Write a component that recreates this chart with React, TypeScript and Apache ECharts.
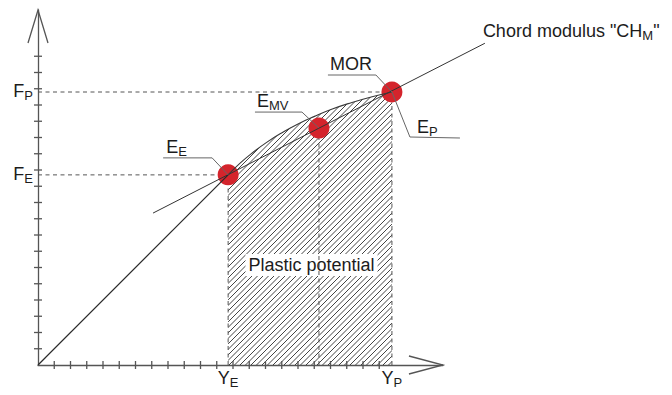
import React, { useEffect, useRef } from "react";
import * as echarts from "echarts";

// ---- data (axis units = tick steps) ----
const xTicks = [1, 2, 3, 4, 5, 6, 7, 8, 9, 10, 11, 12, 13, 14, 15, 16, 17, 18, 19, 20, 21];
const yTicks = [1, 2, 3, 4, 5, 6, 7, 8, 9, 10, 11, 12, 13, 14, 15, 16, 17, 18, 19];
const xAxisMax = 24.92;
const yAxisMax = 21.85;

const YE = 11.7;
const YP = 21.78;
const FE = 11.7;
const FP = 16.8;

const xLabelValues = [YE, YP];
const xLabelNames = [["Y", "E"], ["Y", "P"]];
const yLabelValues = [FE, FP];
const yLabelNames = [["F", "E"], ["F", "P"]];

const elasticLine = [[0, 0], [11.7, 11.7]];
const plasticCurve = [
  [11.7, 11.7], [12.42, 12.41], [13.22, 13.08], [14.07, 13.7], [14.99, 14.28],
  [15.97, 14.82], [17.01, 15.3], [18.11, 15.75], [19.27, 16.14], [20.5, 16.49], [21.78, 16.8],
];
const chordLine = [[7.08, 9.35], [27.5, 19.8]];

const pointEE = [11.7, 11.7];
const pointEMV = [17.29, 14.58];
const pointMOR = [21.78, 16.8];
const markedPoints = [pointEE, pointEMV, pointMOR];

const annotationPoints = [pointEE, pointEMV, pointMOR, pointMOR, chordLine[1]];
const annotationTexts = [
  "{m|E}{s|E}",
  "{m|E}{s|MV}",
  "{m|MOR}",
  "{m|E}{s|P}",
  '{m|Chord modulus "CH}{s|M}{m|"}',
];
const areaLabel = "Plastic potential";

// ---- styles / layout ----
const FONT = "'Liberation Sans', Arial, sans-serif";
const TEXT = "#1c1c1c";
const AXIS = "#555";
const PX = 16.25;
const ORIGIN_X = 38;
const ORIGIN_Y = 365;

const annLayout = [
  { leader: [[0, 0], [-16, -17], [-65, -17]], tx: -62, ty: -17 },
  { leader: [[0, 0], [-17, -16], [-64, -16]], tx: -62, ty: -16 },
  { leader: [[0, 0], [-16, -17], [-64, -17]], tx: -62, ty: -17 },
  { leader: [[0, 0], [18, 45], [68, 46]], tx: 25, ty: 46 },
  { leader: null, tx: -2, ty: -1 },
];

const richLabel = {
  m: { fontSize: 18, lineHeight: 20, verticalAlign: "top", fontFamily: FONT, color: TEXT, fill: TEXT },
  s: { fontSize: 13, lineHeight: 11, verticalAlign: "bottom", fontFamily: FONT, color: TEXT, fill: TEXT },
};

function makeHatch() {
  const s = 11;
  const c = document.createElement("canvas");
  c.width = s;
  c.height = s;
  const ctx = c.getContext("2d");
  if (ctx) {
    ctx.strokeStyle = "#444";
    ctx.lineWidth = 1;
    ctx.beginPath();
    for (const k of [0, 5.5, 11, 16.5, 22]) {
      ctx.moveTo(k + 1, -1);
      ctx.lineTo(-1, k + 1);
    }
    ctx.stroke();
  }
  return { image: c, repeat: "repeat", imageWidth: s, imageHeight: s };
}

const dashedSegments = [
  [[0, FP], [YP, FP]],
  [[0, FE], [YE, FE]],
  [[YE, 0], [YE, FE]],
  [[YP, 0], [YP, FP]],
  [[pointEMV[0], 0], pointEMV],
];

export default function App() {
  const ref = useRef<HTMLDivElement>(null);

  useEffect(() => {
    if (!ref.current) return;
    const chart = echarts.init(ref.current, null, { renderer: "svg" });

    const tickData = [
      ...xTicks.map((v) => [v, 0, 0]),
      ...yTicks.map((v) => [0, v, 1]),
    ];

    const option: any = {
      animation: false,
      backgroundColor: "#ffffff",
      grid: {
        left: ORIGIN_X,
        top: ORIGIN_Y - yAxisMax * PX,
        width: xAxisMax * PX,
        height: yAxisMax * PX,
        containLabel: false,
        outerBoundsMode: "none",
      },
      xAxis: {
        type: "value",
        min: 0,
        max: xAxisMax,
        splitLine: { show: false },
        axisLine: { show: true, onZero: false, lineStyle: { color: AXIS, width: 1.3 } },
        axisTick: { show: false },
        axisLabel: {
          show: true,
          customValues: xLabelValues,
          margin: 4,
          formatter: (v: number) => {
            const i = xLabelValues.indexOf(v);
            return i >= 0 ? `{m|${xLabelNames[i][0]}}{s|${xLabelNames[i][1]}}` : "";
          },
          rich: richLabel,
        },
      },
      yAxis: {
        type: "value",
        min: 0,
        max: yAxisMax,
        splitLine: { show: false },
        axisLine: { show: true, onZero: false, lineStyle: { color: AXIS, width: 1.3 } },
        axisTick: { show: false },
        axisLabel: {
          show: true,
          customValues: yLabelValues,
          margin: 5,
          formatter: (v: number) => {
            const i = yLabelValues.indexOf(v);
            return i >= 0 ? `{m|${yLabelNames[i][0]}}{s|${yLabelNames[i][1]}}` : "";
          },
          rich: richLabel,
        },
      },
      series: [
        // hatched plastic area
        {
          type: "line",
          data: plasticCurve,
          smooth: true,
          symbol: "none",
          lineStyle: { width: 0 },
          areaStyle: { color: makeHatch(), opacity: 1, origin: "start" },
          z: 1,
          silent: true,
        },
        // label with white background
        {
          type: "custom",
          data: [[(YE + YP) / 2, 0]],
          z: 2,
          silent: true,
          renderItem: (params: any, api: any) => {
            const p = api.coord([api.value(0), api.value(1)]);
            return {
              type: "text",
              x: p[0] + 1.5,
              y: p[1] - 100,
              style: {
                text: areaLabel,
                fontSize: 18,
                fontFamily: FONT,
                fill: TEXT,
                align: "center",
                verticalAlign: "middle",
                backgroundColor: "#ffffff",
                padding: [1, 3],
                lineHeight: 20,
              },
            };
          },
        },
        // dashed guides
        ...dashedSegments.map((seg) => ({
          type: "line",
          data: seg,
          symbol: "none",
          lineStyle: { color: "#555", width: 1, type: [4, 3.5] },
          z: 3,
          silent: true,
        })),
        // red points
        {
          type: "scatter",
          data: markedPoints,
          symbolSize: 21,
          itemStyle: { color: "#d4242c", opacity: 1 },
          z: 4,
          silent: true,
        },
        // elastic part of the curve
        {
          type: "line",
          data: elasticLine,
          symbol: "none",
          lineStyle: { color: "#2a2a2a", width: 1.2 },
          z: 5,
          silent: true,
        },
        // plastic part of the curve
        {
          type: "line",
          data: plasticCurve,
          smooth: true,
          symbol: "none",
          lineStyle: { color: "#3a3a3a", width: 1.1 },
          z: 5,
          silent: true,
        },
        // chord modulus line (drawn unclipped)
        {
          type: "custom",
          data: [chordLine[0].concat(chordLine[1])],
          z: 5,
          silent: true,
          renderItem: (params: any, api: any) => {
            const a = api.coord([api.value(0), api.value(1)]);
            const b = api.coord([api.value(2), api.value(3)]);
            return {
              type: "line",
              shape: { x1: a[0], y1: a[1], x2: b[0], y2: b[1] },
              style: { stroke: "#333", lineWidth: 1 },
            };
          },
        },
        // axis ticks crossing the axes
        {
          type: "custom",
          data: tickData,
          z: 5,
          silent: true,
          renderItem: (params: any, api: any) => {
            const p = api.coord([api.value(0), api.value(1)]);
            const vertical = api.value(2) === 0;
            return {
              type: "line",
              shape: vertical
                ? { x1: p[0], y1: p[1] - 4, x2: p[0], y2: p[1] + 4 }
                : { x1: p[0] - 4, y1: p[1], x2: p[0] + 4, y2: p[1] },
              style: { stroke: AXIS, lineWidth: 1.3 },
            };
          },
        },
        // axis arrow heads
        {
          type: "custom",
          data: [[xAxisMax, 0], [0, yAxisMax]],
          z: 5,
          silent: true,
          renderItem: (params: any, api: any) => {
            const p = api.coord([api.value(0), api.value(1)]);
            const pts =
              params.dataIndex === 0
                ? [[p[0] - 34, p[1] - 9], [p[0], p[1]], [p[0] - 34, p[1] + 9]]
                : [[p[0] - 10, p[1] + 33], [p[0], p[1]], [p[0] + 10, p[1] + 33]];
            return {
              type: "polyline",
              shape: { points: pts },
              style: { stroke: AXIS, lineWidth: 1.3, fill: "none" },
            };
          },
        },
        // annotations: leaders + labels
        {
          type: "custom",
          data: annotationPoints,
          z: 6,
          silent: true,
          renderItem: (params: any, api: any) => {
            const i = params.dataIndex;
            const p = api.coord([api.value(0), api.value(1)]);
            const L = annLayout[i];
            const children: any[] = [];
            if (L.leader) {
              children.push({
                type: "polyline",
                shape: { points: L.leader.map((o) => [p[0] + o[0], p[1] + o[1]]) },
                style: { stroke: "#666", lineWidth: 1, fill: "none" },
              });
            }
            children.push({
              type: "text",
              x: p[0] + L.tx,
              y: p[1] + L.ty,
              style: {
                text: annotationTexts[i],
                rich: richLabel,
                fontSize: 18,
                fontFamily: FONT,
                fill: TEXT,
                align: "left",
                verticalAlign: "bottom",
              },
            });
            return { type: "group", children };
          },
        },
      ],
    };

    chart.setOption(option);
    return () => chart.dispose();
  }, []);

  return (
    <div
      ref={ref}
      style={{ position: "fixed", left: 0, top: 0, width: 672, height: 395, background: "#fff" }}
    />
  );
}
